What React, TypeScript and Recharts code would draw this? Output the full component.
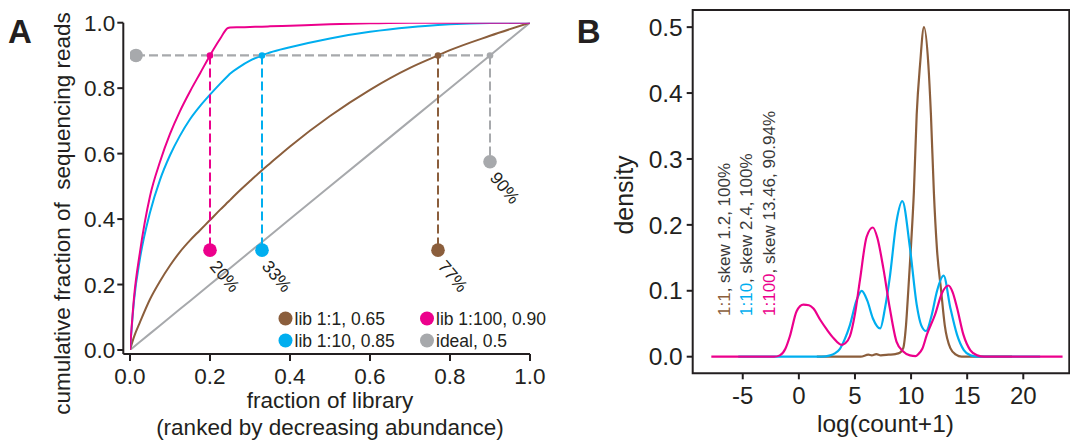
import React from 'react';
import {
  ComposedChart,
  Line,
  Scatter,
  XAxis,
  YAxis,
  ReferenceArea,
} from 'recharts';

// palette
const MAGENTA = '#EC008C';
const CYAN = '#00AEEF';
const BROWN = '#8B5E3C';
const GRAY = '#A7A9AC';
const INK = '#231F20';
const FONT = "'Liberation Sans', Arial, Helvetica, sans-serif";

// ---- panel A: cumulative fraction of reads vs fraction of library ----
const libFrac = [0, 0.01, 0.025, 0.05, 0.075, 0.1, 0.125, 0.15, 0.175, 0.2, 0.225, 0.245, 0.25, 0.275, 0.3, 0.33, 0.35, 0.4, 0.5, 0.6, 0.7, 0.77, 0.8, 0.9, 1.0];
const cumLib100 = [0, 0.16, 0.3, 0.47, 0.575, 0.66, 0.73, 0.79, 0.845, 0.9, 0.95, 0.984, 0.985, 0.986, 0.987, 0.988, 0.989, 0.991, 0.995, 0.998, 1.0, 1.0, 1.0, 1.0, 1.0];
const cumLib10 = [0, 0.15, 0.28, 0.42, 0.52, 0.595, 0.655, 0.705, 0.745, 0.78, 0.813, 0.838, 0.844, 0.866, 0.884, 0.9, 0.909, 0.925, 0.952, 0.972, 0.986, 0.993, 0.995, 0.999, 1.0];
const cumLib1 = [0, 0.04, 0.085, 0.155, 0.21, 0.258, 0.3, 0.335, 0.366, 0.397, 0.428, 0.452, 0.458, 0.488, 0.516, 0.549, 0.57, 0.622, 0.715, 0.795, 0.862, 0.9, 0.916, 0.96, 1.0];
const cumIdeal = libFrac;

const READ_CUTOFF = 0.9;
const cutoffPct = [20, 33, 77, 90];
const cutoffDotY = [0.305, 0.305, 0.305, 0.575];
const idealStartX = 0.015;

const legendNames = ['lib 1:1, 0.65', 'lib 1:10, 0.85', 'lib 1:100, 0.90', 'ideal, 0.5'];
const legendColors = [BROWN, CYAN, MAGENTA, GRAY];

const xTicksA = [0, 0.2, 0.4, 0.6, 0.8, 1.0];
const yTicksA = [0, 0.2, 0.4, 0.6, 0.8, 1.0];

// ---- panel B: density of log(count+1) ----
const lib1X = [1.6, 5.5, 6.2, 6.5, 6.9, 7.3, 8.0, 8.6, 9.0, 9.3, 9.55, 9.75, 10.0, 10.25, 10.5, 10.8, 11.15, 11.54, 11.77, 12.03, 12.3, 12.68, 13.0, 13.5, 14.0, 14.5, 19.0];
const lib1Y = [0, 0, 0.003, 0.002, 0.004, 0.002, 0.003, 0.004, 0.006, 0.013, 0.048, 0.1, 0.17, 0.25, 0.367, 0.443, 0.5, 0.443, 0.367, 0.25, 0.165, 0.1, 0.048, 0.013, 0.003, 0, 0];

const lib10X = [-5.4, 2.0, 2.8, 3.2, 3.66, 4.1, 4.55, 5.15, 5.6, 6.1, 6.6, 7.25, 7.68, 8.1, 8.7, 9.22, 9.9, 10.5, 10.9, 11.34, 11.85, 12.3, 12.9, 13.5, 14.1, 14.7, 15.3, 16.0, 21.5];
const lib10Y = [0, 0, 0.002, 0.005, 0.012, 0.027, 0.048, 0.086, 0.1, 0.085, 0.058, 0.043, 0.074, 0.12, 0.205, 0.236, 0.165, 0.079, 0.048, 0.039, 0.064, 0.099, 0.123, 0.074, 0.033, 0.01, 0.002, 0, 0];

const lib100X = [-7.8, -2.2, -1.7, -1.2, -0.8, -0.2, 0.4, 0.9, 1.3, 1.9, 2.5, 3.1, 3.8, 4.1, 4.55, 5.0, 5.45, 6.04, 6.6, 7.0, 7.53, 8.1, 8.7, 9.3, 9.9, 10.4, 10.65, 11.0, 11.4, 12.14, 12.74, 13.33, 13.7, 14.1, 14.67, 15.27, 15.9, 16.5, 23.5];
const lib100Y = [0, 0, 0.002, 0.012, 0.031, 0.069, 0.079, 0.078, 0.073, 0.056, 0.041, 0.028, 0.018, 0.02, 0.031, 0.065, 0.117, 0.182, 0.196, 0.18, 0.134, 0.074, 0.023, 0.008, 0.002, 0.001, 0.004, 0.012, 0.033, 0.064, 0.096, 0.108, 0.098, 0.074, 0.033, 0.01, 0.002, 0, 0];

const densityNotes = [
  { name: '1:1', rest: ', skew 1.2, 100%' },
  { name: '1:10', rest: ', skew 2.4, 100%' },
  { name: '1:100', rest: ', skew 13.46, 90.94%' },
];
const noteColors = [BROWN, CYAN, MAGENTA];

const xTicksB = [-5, 0, 5, 10, 15, 20];
const yTicksB = [0, 0.1, 0.2, 0.3, 0.4, 0.5];
const xDomainB: [number, number] = [-9.46, 24.1];
const yDomainB: [number, number] = [-0.0252, 0.526];

const zip = (xs: number[], ys: number[]) => xs.map((x, i) => ({ x, y: ys[i] }));

const cutoffColors = [MAGENTA, CYAN, BROWN, GRAY];
const cutoffs = cutoffPct.map((p, i) => ({ x: p / 100, y: cutoffDotY[i], label: `${p}%`, color: cutoffColors[i] }));

const BigDot = (props: any) => {
  const { cx, cy, payload } = props;
  if (cx == null || cy == null) return null;
  const tx = cx - 1;
  const ty = cy + 16.5;
  return (
    <g>
      <circle cx={cx} cy={cy} r={6.8} fill={payload.color} />
      <text
        x={tx}
        y={ty}
        fontSize={17.5}
        fill={INK}
        transform={`rotate(50 ${tx} ${ty})`}
      >
        {payload.label}
      </text>
    </g>
  );
};

const SmallDot = (props: any) => {
  const { cx, cy, payload } = props;
  if (cx == null || cy == null) return null;
  return <circle cx={cx} cy={cy} r={3.3} fill={payload.color} />;
};

const tickStyle = (size: number) => ({ fontSize: size, fill: INK, fontFamily: FONT });

const PanelA = () => {
  const curveProps = { type: 'monotone' as const, dot: false, isAnimationActive: false, strokeWidth: 2 };
  return (
    <ComposedChart width={560} height={444} margin={{ top: 22.7, right: 30, bottom: 60, left: 63.3 }}>
      <XAxis
        type="number"
        dataKey="x"
        domain={[0, 1]}
        ticks={xTicksA}
        tickFormatter={(v: number) => v.toFixed(1)}
        padding={{ left: 6.7, right: 0 }}
        height={30}
        tickSize={7}
        tickMargin={7}
        axisLine={{ stroke: INK, strokeWidth: 2 }}
        tickLine={{ stroke: INK, strokeWidth: 2 }}
        tick={tickStyle(22.5)}
        allowDataOverflow
      />
      <YAxis
        type="number"
        dataKey="y"
        domain={[0, 1]}
        ticks={yTicksA}
        tickFormatter={(v: number) => v.toFixed(1)}
        padding={{ top: 0, bottom: 4 }}
        width={60}
        tickSize={6}
        tickMargin={2}
        axisLine={{ stroke: INK, strokeWidth: 2 }}
        tickLine={{ stroke: INK, strokeWidth: 2 }}
        tick={tickStyle(22.5)}
        allowDataOverflow
      />
      <Line {...curveProps} type="linear" data={zip(libFrac, cumIdeal)} dataKey="y" stroke={GRAY} />
      <Line {...curveProps} data={zip(libFrac, cumLib1)} dataKey="y" stroke={BROWN} />
      <Line {...curveProps} data={zip(libFrac, cumLib10)} dataKey="y" stroke={CYAN} />
      <Line {...curveProps} data={zip(libFrac, cumLib100)} dataKey="y" stroke={MAGENTA} />

      {/* 90% of reads cut-off and where each library crosses it */}
      <Line
        type="linear"
        data={[{ x: idealStartX, y: READ_CUTOFF }, { x: cutoffs[3].x, y: READ_CUTOFF }]}
        dataKey="y"
        stroke={GRAY}
        strokeWidth={2.2}
        strokeDasharray="9 4"
        dot={false}
        isAnimationActive={false}
      />
      {cutoffs.map((c) => (
        <Line
          key={c.label}
          type="linear"
          data={[{ x: c.x, y: READ_CUTOFF }, { x: c.x, y: c.y }]}
          dataKey="y"
          stroke={c.color}
          strokeWidth={2}
          strokeDasharray="9 4"
          dot={false}
          isAnimationActive={false}
        />
      ))}
      <Scatter
        data={[{ x: idealStartX, y: READ_CUTOFF, color: GRAY }]}
        dataKey="y"
        shape={(p: any) => <circle cx={p.cx} cy={p.cy} r={6.8} fill={GRAY} />}
        isAnimationActive={false}
      />
      <Scatter
        data={cutoffs.map((c) => ({ x: c.x, y: READ_CUTOFF, color: c.color }))}
        dataKey="y"
        shape={SmallDot}
        isAnimationActive={false}
      />
      <Scatter data={cutoffs} dataKey="y" shape={BigDot} isAnimationActive={false} />
    </ComposedChart>
  );
};

const PanelB = () => {
  const curveProps = { type: 'monotone' as const, dot: false, isAnimationActive: false, strokeWidth: 2.2 };
  return (
    <ComposedChart width={510} height={444} margin={{ top: 10, right: 0.7, bottom: 40.7, left: 72.7 }}>
      <XAxis
        type="number"
        dataKey="x"
        domain={xDomainB}
        ticks={xTicksB}
        height={30}
        tickSize={6}
        tickMargin={8}
        axisLine={false}
        tickLine={{ stroke: INK, strokeWidth: 2 }}
        tick={tickStyle(24)}
        allowDataOverflow
      />
      <YAxis
        type="number"
        dataKey="y"
        domain={yDomainB}
        ticks={yTicksB}
        tickFormatter={(v: number) => v.toFixed(1)}
        width={60}
        tickSize={6}
        tickMargin={4}
        axisLine={false}
        tickLine={{ stroke: INK, strokeWidth: 2 }}
        tick={tickStyle(24.5)}
        allowDataOverflow
      />
      <ReferenceArea
        x1={xDomainB[0]}
        x2={xDomainB[1]}
        y1={yDomainB[0]}
        y2={yDomainB[1]}
        fill="none"
        stroke={INK}
        strokeWidth={2}
        ifOverflow="visible"
      />
      <Line {...curveProps} data={zip(lib1X, lib1Y)} dataKey="y" stroke={BROWN} />
      <Line {...curveProps} data={zip(lib10X, lib10Y)} dataKey="y" stroke={CYAN} />
      <Line {...curveProps} data={zip(lib100X, lib100Y)} dataKey="y" stroke={MAGENTA} />
    </ComposedChart>
  );
};

const Overlay = () => (
  <svg
    width={1070}
    height={444}
    style={{ position: 'absolute', left: 0, top: 0, pointerEvents: 'none', fontFamily: FONT }}
  >
    <text x={8} y={43} fontSize={33} fontWeight="bold" fill={INK}>A</text>
    <text x={576.7} y={43.3} fontSize={33} fontWeight="bold" fill={INK}>B</text>

    {/* panel A axis titles */}
    <text
      x={70}
      y={213.5}
      fontSize={22.5}
      fill={INK}
      textAnchor="middle"
      style={{ whiteSpace: 'pre' }}
      transform="rotate(-90 70 213.5)"
    >
      {'cumulative fraction of  sequencing reads'}
    </text>
    <text x={330} y={408} fontSize={22.5} fill={INK} textAnchor="middle">fraction of library</text>
    <text x={330} y={435} fontSize={22.5} fill={INK} textAnchor="middle">(ranked by decreasing abundance)</text>

    {/* panel A legend */}
    {legendNames.map((name, i) => {
      const col = i < 2 ? 0 : 1;
      const row = i % 2;
      const dx = col === 0 ? 285.5 : 427;
      const dy = row === 0 ? 318.5 : 340.5;
      return (
        <g key={name}>
          <circle cx={dx} cy={dy} r={7} fill={legendColors[i]} />
          <text x={dx + 9} y={dy + 6.3} fontSize={17.5} fill={INK}>{name}</text>
        </g>
      );
    })}

    {/* panel B axis titles */}
    <text x={633} y={195} fontSize={25} fill={INK} textAnchor="middle" transform="rotate(-90 633 195)">density</text>
    <text x={885.5} y={432} fontSize={24.5} fill={INK} textAnchor="middle">log(count+1)</text>

    {/* panel B per-library notes */}
    {densityNotes.map((n, i) => {
      const x = [730, 752, 775][i];
      const y = 316;
      return (
        <text key={n.name} x={x} y={y} fontSize={17} transform={`rotate(-90 ${x} ${y})`}>
          <tspan fill={noteColors[i]}>{n.name}</tspan>
          <tspan fill="#3a3a3a">{n.rest}</tspan>
        </text>
      );
    })}
  </svg>
);

export default function App() {
  return (
    <div
      style={{
        position: 'absolute',
        left: 0,
        top: 0,
        width: 1070,
        height: 444,
        background: '#fff',
        fontFamily: FONT,
        overflow: 'hidden',
      }}
    >
      <div style={{ position: 'absolute', left: 0, top: 0 }}>
        <PanelA />
      </div>
      <div style={{ position: 'absolute', left: 560, top: 0 }}>
        <PanelB />
      </div>
      <Overlay />
    </div>
  );
}
